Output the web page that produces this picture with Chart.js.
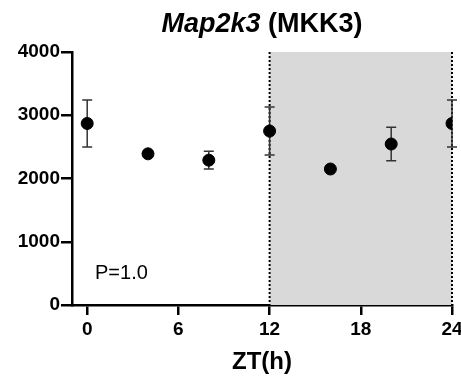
<!DOCTYPE html>
<html>
<head>
<meta charset="utf-8">
<script src="https://cdn.jsdelivr.net/npm/chart.js@4"></script>
<style>
  body { margin: 0; background: #fff; }
  #wrap { width: 461px; height: 376px; }
</style>
</head>
<body>
<div id="wrap"><canvas id="mkk3Chart" width="461" height="376"></canvas></div>
<script>
const zt = [0, 4, 8, 12, 16, 20, 24];
const means = [2870, 2390, 2290, 2750, 2150, 2545, 2870];
const errs = [370, 20, 140, 380, 20, 265, 370];
const xTicks = [0, 6, 12, 18, 24];
const yTicks = [0, 1000, 2000, 3000, 4000];
const darkPhase = [12, 24];

const FONT = "'Liberation Sans', Arial, sans-serif";

// grey night box + dotted borders + error bars, under the points
const backdrop = {
    id: "backdrop",
    beforeDatasetsDraw(chart) {
        const ctx = chart.ctx;
        const x = chart.scales.x, y = chart.scales.y;
        const x0 = x.getPixelForValue(darkPhase[0]);
        const x1 = x.getPixelForValue(darkPhase[1]);
        const top = y.getPixelForValue(4000), bot = y.getPixelForValue(0);
        ctx.save();
        ctx.fillStyle = "#d9d9d9";
        ctx.fillRect(x0, top, x1 - x0, bot - top);
        ctx.strokeStyle = "#000";
        ctx.lineWidth = 2;
        ctx.setLineDash([2, 2]);
        [x0, x1].forEach(px => {
            ctx.beginPath();
            ctx.moveTo(px, top);
            ctx.lineTo(px, bot);
            ctx.stroke();
        });
        ctx.setLineDash([]);
        ctx.strokeStyle = "#333";
        ctx.lineWidth = 1.5;
        zt.forEach((t, i) => {
            const px = x.getPixelForValue(t);
            const hi = y.getPixelForValue(means[i] + errs[i]);
            const lo = y.getPixelForValue(means[i] - errs[i]);
            ctx.beginPath();
            ctx.moveTo(px, hi); ctx.lineTo(px, lo);
            ctx.moveTo(px - 5, hi); ctx.lineTo(px + 5, hi);
            ctx.moveTo(px - 5, lo); ctx.lineTo(px + 5, lo);
            ctx.stroke();
        });
        ctx.restore();
    }
};

// title with italic gene name, P value, x axis title
const labels = {
    id: "labels",
    afterDraw(chart) {
        const ctx = chart.ctx;
        ctx.save();
        ctx.fillStyle = "#000";
        ctx.textBaseline = "middle";
        const a = "Map2k3", b = " (MKK3)";
        ctx.font = "italic bold 27px " + FONT;
        const wa = ctx.measureText(a).width;
        ctx.font = "bold 27px " + FONT;
        const wb = ctx.measureText(b).width;
        let sx = 262 - (wa + wb) / 2;
        ctx.font = "italic bold 27px " + FONT;
        ctx.textAlign = "left";
        ctx.fillText(a, sx, 25);
        ctx.font = "bold 27px " + FONT;
        ctx.fillText(b, sx + wa, 25);

        ctx.font = "20px " + FONT;
        ctx.fillText("P=1.0", 95, 273);

        ctx.font = "bold 24px " + FONT;
        ctx.textAlign = "center";
        ctx.fillText("ZT(h)", 262, 362);
        ctx.restore();
    }
};

new Chart(document.getElementById("mkk3Chart"), {
    type: "scatter",
    data: {
        datasets: [{
            data: zt.map((t, i) => ({x: t, y: means[i]})),
            backgroundColor: "#000",
            borderColor: "#000",
            pointRadius: 6,
            pointHoverRadius: 6
        }]
    },
    options: {
        responsive: false,
        animation: false,
        events: [],
        layout: { padding: { top: 52, right: 9, left: 0, bottom: 0 } },
        plugins: { legend: { display: false }, tooltip: { enabled: false } },
        scales: {
            x: {
                type: "linear",
                min: -1,
                max: 24,
                afterBuildTicks: axis => { axis.ticks = xTicks.map(v => ({value: v})); },
                afterFit: axis => { axis.height = 71; axis.paddingRight = 0; axis.paddingLeft = 0; },
                grid: { drawOnChartArea: false, drawTicks: true, tickLength: 10, color: "#000", lineWidth: 2.5 },
                border: { color: "#000", width: 2.5 },
                ticks: { color: "#000", font: { family: FONT, size: 19, weight: "bold" }, padding: 3, maxRotation: 0 }
            },
            y: {
                min: 0,
                max: 4000,
                afterBuildTicks: axis => { axis.ticks = yTicks.map(v => ({value: v})); },
                afterFit: axis => { axis.width = 72; },
                grid: { drawOnChartArea: false, drawTicks: true, tickLength: 11, color: "#000", lineWidth: 2.5 },
                border: { color: "#000", width: 2.5 },
                ticks: { color: "#000", font: { family: FONT, size: 19, weight: "bold" }, padding: 1,
                         callback: v => String(v) }
            }
        }
    },
    plugins: [backdrop, labels]
});
</script>
</body>
</html>
